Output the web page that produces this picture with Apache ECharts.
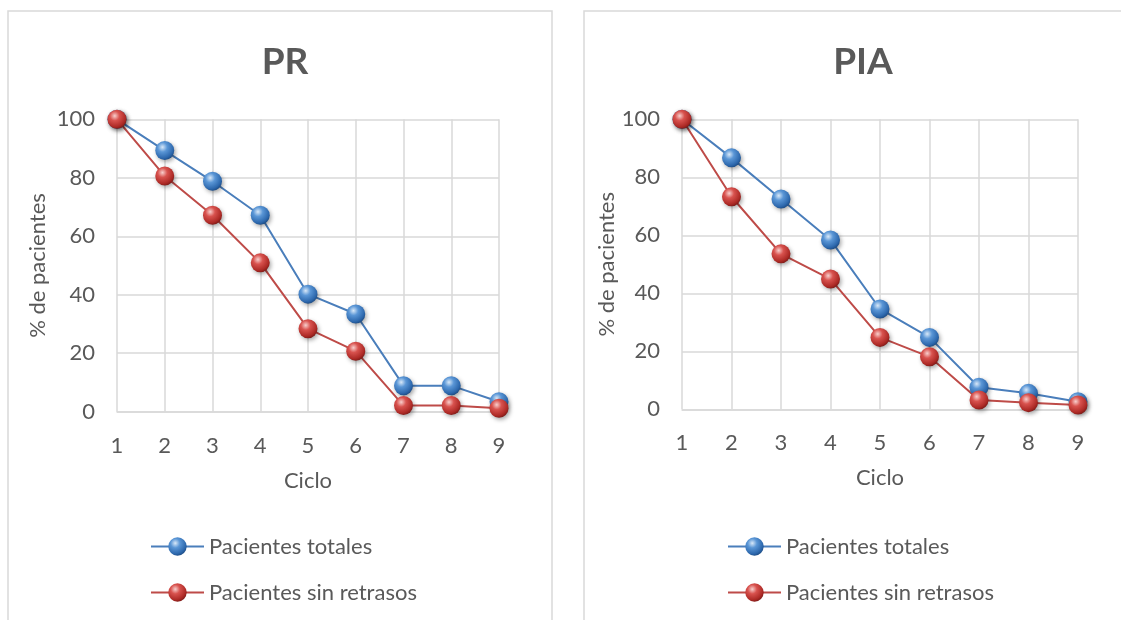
<!DOCTYPE html>
<html>
<head>
<meta charset="utf-8">
<script src="https://cdn.jsdelivr.net/npm/echarts@6/dist/echarts.min.js"></script>
<style>
  html, body { margin: 0; padding: 0; background: #ffffff; }
  #chart { width: 1121px; height: 620px; }
</style>
</head>
<body>
<div id="chart"></div>
<script>
// Cycle numbers on the x axis
const ciclos = ['1', '2', '3', '4', '5', '6', '7', '8', '9'];

// PR: % of patients still on treatment per cycle
const prTotales = [100, 89.3, 78.8, 67.2, 40.2, 33.4, 8.9, 8.9, 3.4];
const prSinRetrasos = [100, 80.6, 67.2, 50.9, 28.4, 20.7, 2.1, 2.1, 1.2];

// PIA: % of patients still on treatment per cycle
const piaTotales = [100, 86.7, 72.5, 58.4, 34.6, 24.8, 7.6, 5.5, 2.6];
const piaSinRetrasos = [100, 73.3, 53.6, 44.9, 24.8, 18.1, 3.2, 2.3, 1.5];

const panelTitles = ['PR', 'PIA'];
const seriesNames = ['Pacientes totales', 'Pacientes sin retrasos'];
const yTicks = { min: 0, max: 100, interval: 20 };

const FONT = 'Lato, "Open Sans", sans-serif';
const TEXT = '#595959';
const GRID = '#d9d9d9';

// Glossy sphere fill for the markers
function sphere(light, mid, dark, edge) {
  return {
    type: 'radial', x: 0.38, y: 0.32, r: 0.72,
    colorStops: [
      { offset: 0, color: light },
      { offset: 0.35, color: mid },
      { offset: 0.8, color: dark },
      { offset: 1, color: edge }
    ]
  };
}
const blueBall = sphere('#d8e8f8', '#5a96d6', '#2d68ad', '#1c4a82');
const redBall = sphere('#f8cfcd', '#d8524e', '#ad2a26', '#7a1a17');

const chart = echarts.init(document.getElementById('chart'), null, { renderer: 'canvas' });

const grids = [
  { left: 117, top: 119.3, width: 382, height: 292.4 },
  { left: 682, top: 119.3, width: 396, height: 290 }
];

function xAxis(i) {
  return {
    type: 'category', gridIndex: i, data: ciclos, boundaryGap: false,
    name: 'Ciclo', nameLocation: 'middle', nameGap: 58,
    nameTextStyle: { color: TEXT, fontSize: 22, fontFamily: FONT },
    axisLine: { lineStyle: { color: GRID, width: 1.5 } },
    axisTick: { show: false },
    axisLabel: { color: TEXT, fontSize: 22, fontFamily: FONT, margin: 23 },
    splitLine: { show: true, lineStyle: { color: GRID, width: 1.5 } }
  };
}
function yAxis(i, gap) {
  return {
    type: 'value', gridIndex: i, min: yTicks.min, max: yTicks.max, interval: yTicks.interval,
    name: '% de pacientes', nameLocation: 'middle', nameGap: gap, nameRotate: 90,
    nameTextStyle: { color: TEXT, fontSize: 22, fontFamily: FONT },
    axisLine: { show: false },
    axisTick: { show: false },
    axisLabel: { color: TEXT, fontSize: 22, fontFamily: FONT, margin: 22 },
    splitLine: { show: true, lineStyle: { color: GRID, width: 1.5 } }
  };
}
function lineSeries(name, data, i, lineColor, ball) {
  return {
    type: 'line', name: name, data: data, xAxisIndex: i, yAxisIndex: i,
    symbol: 'circle', symbolSize: 19, showSymbol: true,
    lineStyle: { color: lineColor, width: 2 },
    itemStyle: {
      color: ball, borderWidth: 0,
      shadowBlur: 4, shadowColor: 'rgba(0,0,0,0.35)', shadowOffsetX: 1.5, shadowOffsetY: 2
    },
    emphasis: { disabled: true },
    animation: false
  };
}
function legend(left) {
  return {
    orient: 'vertical', left: left, top: 535.5, padding: 0,
    itemWidth: 53, itemHeight: 23, itemGap: 24,
    data: seriesNames.map(n => ({ name: n })),
    textStyle: { color: TEXT, fontSize: 22, fontFamily: FONT },
    selectedMode: false
  };
}

const option = {
  backgroundColor: '#ffffff',
  animation: false,
  graphic: [
    { type: 'rect', shape: { x: 8, y: 11, width: 544, height: 640 }, style: { fill: 'none', stroke: GRID, lineWidth: 1.5 }, silent: true },
    { type: 'rect', shape: { x: 584, y: 11, width: 552, height: 640 }, style: { fill: 'none', stroke: GRID, lineWidth: 1.5 }, silent: true }
  ],
  title: [
    { text: panelTitles[0], left: 280, top: 39, textAlign: 'center',
      textStyle: { color: TEXT, fontSize: 37, fontWeight: 'bold', fontFamily: FONT } },
    { text: panelTitles[1], left: 858, top: 39, textAlign: 'center',
      textStyle: { color: TEXT, fontSize: 37, fontWeight: 'bold', fontFamily: FONT } }
  ],
  legend: [legend(150), legend(727)],
  grid: grids,
  xAxis: [xAxis(0), xAxis(1)],
  yAxis: [yAxis(0, 68), yAxis(1, 64)],
  series: [
    lineSeries(seriesNames[0], prTotales, 0, '#4a7ebb', blueBall),
    lineSeries(seriesNames[1], prSinRetrasos, 0, '#be4b48', redBall),
    lineSeries(seriesNames[0], piaTotales, 1, '#4a7ebb', blueBall),
    lineSeries(seriesNames[1], piaSinRetrasos, 1, '#be4b48', redBall)
  ]
};
chart.setOption(option);
</script>
</body>
</html>
